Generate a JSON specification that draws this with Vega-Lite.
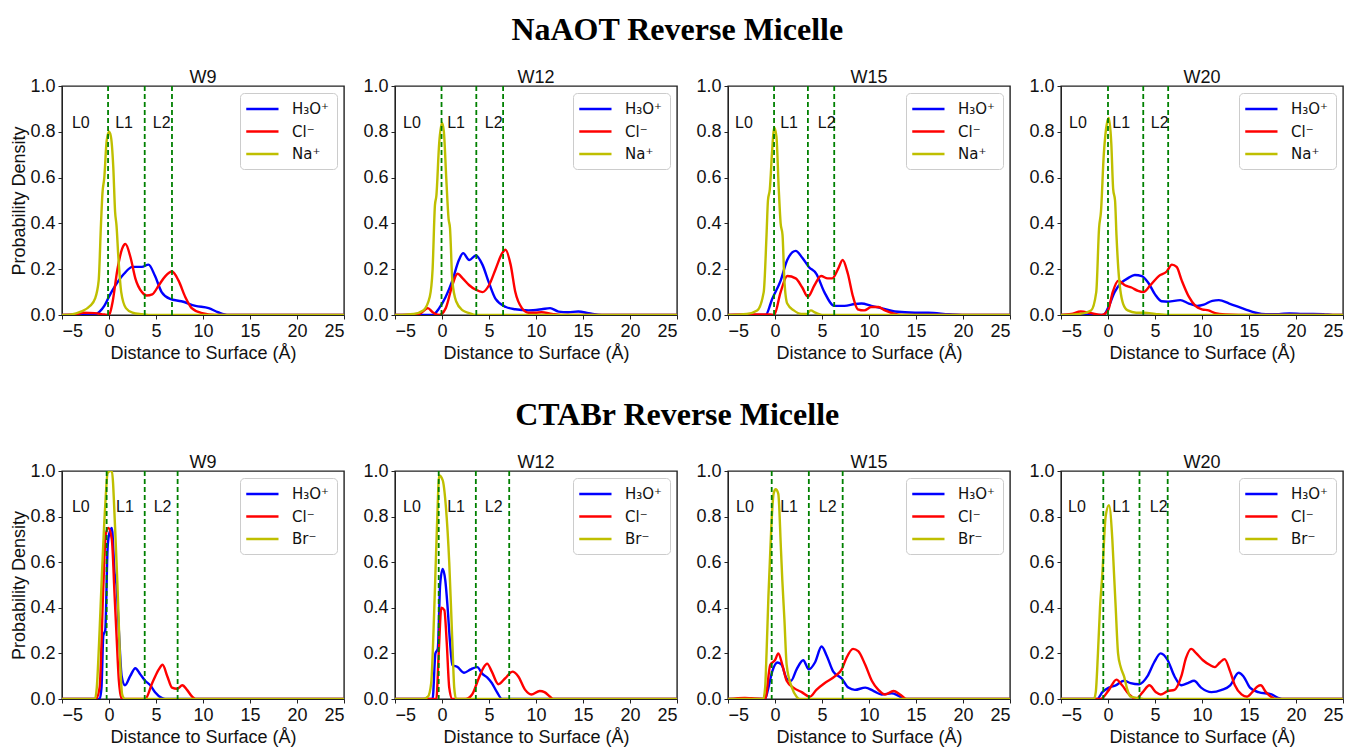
{
"$schema":"https://vega.github.io/schema/vega-lite/v6.json",
"padding":{"left":10,"top":14,"right":5,"bottom":2},
"background":"white",
"config":{
 "font":"Liberation Sans",
 "view":{"stroke":"#222222","strokeWidth":1.4},
 "axis":{"grid":false,"labelFont":"Liberation Sans","labelFontSize":18,"labelColor":"#111","titleFont":"Liberation Sans","titleFontSize":18,"titleFontWeight":"normal","titleColor":"#111","domainColor":"#222","tickColor":"#222","tickSize":4,"labelPadding":3,"titlePadding":4},
 "axisY":{"titlePadding":1},
 "title":{"font":"Liberation Sans","fontSize":18,"fontWeight":"normal","color":"#111","offset":-10},
 "legend":{"orient":"top-right","offset":7,"symbolType":"M-1.3,0H3","symbolSize":225,"symbolStrokeWidth":2.5,"labelFont":"DejaVu Sans","labelFontSize":15,"labelColor":"#111","strokeColor":"#cccccc","fillColor":"white","cornerRadius":4,"padding":7,"rowPadding":5.5,"labelOffset":27}
},
"spacing":36,
"resolve":{"scale":{"color":"independent"},"legend":{"color":"independent"}},
"vconcat":[
{
 "title":{"text":"NaAOT Reverse Micelle","font":"Liberation Serif","fontSize":32,"fontWeight":"bold","anchor":"middle","color":"#000","offset":21},
 "spacing":16,
 "resolve":{"scale":{"color":"independent"},"legend":{"color":"independent"}},
 "hconcat":[
  {"title":"W9","width":282,"height":229,"layer":[
   {"data":{"values":[
{"ion":"H₃O⁺","x":-5,"y":0},{"ion":"H₃O⁺","x":-1.6,"y":0},{"ion":"H₃O⁺","x":-1.0,"y":0.015},{"ion":"H₃O⁺","x":-0.5,"y":0.04},{"ion":"H₃O⁺","x":0,"y":0.08},{"ion":"H₃O⁺","x":0.7,"y":0.13},{"ion":"H₃O⁺","x":1.6,"y":0.18},{"ion":"H₃O⁺","x":2.5,"y":0.21},{"ion":"H₃O⁺","x":3.5,"y":0.21},{"ion":"H₃O⁺","x":4.2,"y":0.22},{"ion":"H₃O⁺","x":4.9,"y":0.17},{"ion":"H₃O⁺","x":5.6,"y":0.1},{"ion":"H₃O⁺","x":6.5,"y":0.07},{"ion":"H₃O⁺","x":7.7,"y":0.06},{"ion":"H₃O⁺","x":9.2,"y":0.04},{"ion":"H₃O⁺","x":10.6,"y":0.03},{"ion":"H₃O⁺","x":11.6,"y":0.012},{"ion":"H₃O⁺","x":12.7,"y":0},{"ion":"H₃O⁺","x":25,"y":0},
{"ion":"Cl⁻","x":-5,"y":0},{"ion":"Cl⁻","x":-3.5,"y":0.003},{"ion":"Cl⁻","x":-2.8,"y":0.01},{"ion":"Cl⁻","x":-1.5,"y":0.008},{"ion":"Cl⁻","x":-0.5,"y":0.002},{"ion":"Cl⁻","x":0,"y":0},{"ion":"Cl⁻","x":0.35,"y":0.05},{"ion":"Cl⁻","x":0.9,"y":0.2},{"ion":"Cl⁻","x":1.4,"y":0.29},{"ion":"Cl⁻","x":1.75,"y":0.31},{"ion":"Cl⁻","x":2.3,"y":0.25},{"ion":"Cl⁻","x":2.8,"y":0.16},{"ion":"Cl⁻","x":3.5,"y":0.1},{"ion":"Cl⁻","x":4.0,"y":0.085},{"ion":"Cl⁻","x":4.6,"y":0.09},{"ion":"Cl⁻","x":5.3,"y":0.13},{"ion":"Cl⁻","x":6.0,"y":0.17},{"ion":"Cl⁻","x":6.7,"y":0.19},{"ion":"Cl⁻","x":7.4,"y":0.15},{"ion":"Cl⁻","x":8.1,"y":0.08},{"ion":"Cl⁻","x":8.8,"y":0.03},{"ion":"Cl⁻","x":9.9,"y":0.008},{"ion":"Cl⁻","x":11.3,"y":0},{"ion":"Cl⁻","x":25,"y":0},
{"ion":"Na⁺","x":-5,"y":0},{"ion":"Na⁺","x":-4,"y":0.003},{"ion":"Na⁺","x":-3,"y":0.015},{"ion":"Na⁺","x":-2,"y":0.04},{"ion":"Na⁺","x":-1.5,"y":0.07},{"ion":"Na⁺","x":-1.1,"y":0.15},{"ion":"Na⁺","x":-0.85,"y":0.4},{"ion":"Na⁺","x":-0.7,"y":0.53},{"ion":"Na⁺","x":-0.5,"y":0.6},{"ion":"Na⁺","x":-0.25,"y":0.76},{"ion":"Na⁺","x":0,"y":0.8},{"ion":"Na⁺","x":0.2,"y":0.78},{"ion":"Na⁺","x":0.45,"y":0.65},{"ion":"Na⁺","x":0.65,"y":0.45},{"ion":"Na⁺","x":0.8,"y":0.39},{"ion":"Na⁺","x":1.0,"y":0.25},{"ion":"Na⁺","x":1.3,"y":0.1},{"ion":"Na⁺","x":1.8,"y":0.03},{"ion":"Na⁺","x":2.5,"y":0.01},{"ion":"Na⁺","x":3.5,"y":0.003},{"ion":"Na⁺","x":4.2,"y":0},{"ion":"Na⁺","x":25,"y":0}
   ]},
   "mark":{"type":"line","interpolate":"monotone","strokeWidth":2.4,"clip":true},
   "encoding":{
    "x":{"field":"x","type":"quantitative","scale":{"domain":[-5,25],"nice":false,"zero":false},"axis":{"values":[-5,0,5,10,15,20,25],"title":"Distance to Surface (Å)"}},
    "y":{"field":"y","type":"quantitative","scale":{"domain":[0,1],"nice":false},"axis":{"values":[0,0.2,0.4,0.6,0.8,1.0],"format":".1f","title":"Probability Density"}},
    "color":{"field":"ion","type":"nominal","sort":null,"scale":{"domain":["H₃O⁺","Cl⁻","Na⁺"],"range":["#0000ff","#ff0000","#bfbf00"]},"legend":{"title":null}}
   }},
   {"data":{"values":[{"x":-0.1},{"x":3.8},{"x":6.7}]},"mark":{"type":"rule","color":"#008000","strokeDash":[5,3],"strokeWidth":1.8},"encoding":{"x":{"field":"x","type":"quantitative"}}},
   {"data":{"values":[{"t":"L0","x":-3.0,"y":0.84},{"t":"L1","x":1.6,"y":0.84},{"t":"L2","x":5.6,"y":0.84}]},"mark":{"type":"text","fontSize":16,"font":"Liberation Sans","color":"#111"},"encoding":{"x":{"field":"x","type":"quantitative"},"y":{"field":"y","type":"quantitative"},"text":{"field":"t"}}}
  ]},
  {"title":"W12","width":282,"height":229,"layer":[
   {"data":{"values":[
{"ion":"H₃O⁺","x":-5,"y":0},{"ion":"H₃O⁺","x":-1.0,"y":0},{"ion":"H₃O⁺","x":-0.3,"y":0.03},{"ion":"H₃O⁺","x":0.4,"y":0.08},{"ion":"H₃O⁺","x":1.1,"y":0.15},{"ion":"H₃O⁺","x":1.8,"y":0.24},{"ion":"H₃O⁺","x":2.25,"y":0.27},{"ion":"H₃O⁺","x":2.9,"y":0.24},{"ion":"H₃O⁺","x":3.6,"y":0.26},{"ion":"H₃O⁺","x":4.3,"y":0.22},{"ion":"H₃O⁺","x":5.0,"y":0.14},{"ion":"H₃O⁺","x":5.7,"y":0.07},{"ion":"H₃O⁺","x":6.8,"y":0.035},{"ion":"H₃O⁺","x":7.8,"y":0.025},{"ion":"H₃O⁺","x":9.2,"y":0.02},{"ion":"H₃O⁺","x":10.6,"y":0.025},{"ion":"H₃O⁺","x":11.5,"y":0.03},{"ion":"H₃O⁺","x":12.4,"y":0.015},{"ion":"H₃O⁺","x":13.4,"y":0.012},{"ion":"H₃O⁺","x":14.5,"y":0.015},{"ion":"H₃O⁺","x":15.6,"y":0.008},{"ion":"H₃O⁺","x":17,"y":0},{"ion":"H₃O⁺","x":25,"y":0},
{"ion":"Cl⁻","x":-5,"y":0},{"ion":"Cl⁻","x":-2.4,"y":0.005},{"ion":"Cl⁻","x":-1.5,"y":0.03},{"ion":"Cl⁻","x":-1.0,"y":0.012},{"ion":"Cl⁻","x":-0.3,"y":0},{"ion":"Cl⁻","x":0.4,"y":0.03},{"ion":"Cl⁻","x":1.1,"y":0.13},{"ion":"Cl⁻","x":1.65,"y":0.18},{"ion":"Cl⁻","x":2.2,"y":0.16},{"ion":"Cl⁻","x":2.9,"y":0.13},{"ion":"Cl⁻","x":3.6,"y":0.11},{"ion":"Cl⁻","x":4.3,"y":0.1},{"ion":"Cl⁻","x":5.0,"y":0.13},{"ion":"Cl⁻","x":5.7,"y":0.2},{"ion":"Cl⁻","x":6.4,"y":0.27},{"ion":"Cl⁻","x":6.75,"y":0.285},{"ion":"Cl⁻","x":7.3,"y":0.22},{"ion":"Cl⁻","x":7.8,"y":0.1},{"ion":"Cl⁻","x":8.5,"y":0.03},{"ion":"Cl⁻","x":9.2,"y":0.01},{"ion":"Cl⁻","x":9.9,"y":0.01},{"ion":"Cl⁻","x":10.6,"y":0.012},{"ion":"Cl⁻","x":11.7,"y":0.005},{"ion":"Cl⁻","x":12.7,"y":0},{"ion":"Cl⁻","x":25,"y":0},
{"ion":"Na⁺","x":-5,"y":0},{"ion":"Na⁺","x":-3,"y":0.005},{"ion":"Na⁺","x":-2,"y":0.02},{"ion":"Na⁺","x":-1.3,"y":0.08},{"ion":"Na⁺","x":-1.0,"y":0.2},{"ion":"Na⁺","x":-0.75,"y":0.48},{"ion":"Na⁺","x":-0.6,"y":0.52},{"ion":"Na⁺","x":-0.3,"y":0.75},{"ion":"Na⁺","x":0,"y":0.84},{"ion":"Na⁺","x":0.2,"y":0.8},{"ion":"Na⁺","x":0.45,"y":0.6},{"ion":"Na⁺","x":0.7,"y":0.42},{"ion":"Na⁺","x":0.85,"y":0.38},{"ion":"Na⁺","x":1.1,"y":0.15},{"ion":"Na⁺","x":1.5,"y":0.06},{"ion":"Na⁺","x":2.2,"y":0.02},{"ion":"Na⁺","x":2.9,"y":0.008},{"ion":"Na⁺","x":3.6,"y":0},{"ion":"Na⁺","x":25,"y":0}
   ]},
   "mark":{"type":"line","interpolate":"monotone","strokeWidth":2.4,"clip":true},
   "encoding":{
    "x":{"field":"x","type":"quantitative","scale":{"domain":[-5,25],"nice":false,"zero":false},"axis":{"values":[-5,0,5,10,15,20,25],"title":"Distance to Surface (Å)"}},
    "y":{"field":"y","type":"quantitative","scale":{"domain":[0,1],"nice":false},"axis":{"values":[0,0.2,0.4,0.6,0.8,1.0],"format":".1f","title":null}},
    "color":{"field":"ion","type":"nominal","sort":null,"scale":{"domain":["H₃O⁺","Cl⁻","Na⁺"],"range":["#0000ff","#ff0000","#bfbf00"]},"legend":{"title":null}}
   }},
   {"data":{"values":[{"x":-0.05},{"x":3.65},{"x":6.5}]},"mark":{"type":"rule","color":"#008000","strokeDash":[5,3],"strokeWidth":1.8},"encoding":{"x":{"field":"x","type":"quantitative"}}},
   {"data":{"values":[{"t":"L0","x":-3.2,"y":0.84},{"t":"L1","x":1.5,"y":0.84},{"t":"L2","x":5.5,"y":0.84}]},"mark":{"type":"text","fontSize":16,"font":"Liberation Sans","color":"#111"},"encoding":{"x":{"field":"x","type":"quantitative"},"y":{"field":"y","type":"quantitative"},"text":{"field":"t"}}}
  ]},
  {"title":"W15","width":282,"height":229,"layer":[
   {"data":{"values":[
{"ion":"H₃O⁺","x":-5,"y":0},{"ion":"H₃O⁺","x":-1.0,"y":0},{"ion":"H₃O⁺","x":-0.3,"y":0.07},{"ion":"H₃O⁺","x":0.6,"y":0.15},{"ion":"H₃O⁺","x":1.3,"y":0.24},{"ion":"H₃O⁺","x":2.2,"y":0.28},{"ion":"H₃O⁺","x":2.9,"y":0.25},{"ion":"H₃O⁺","x":3.6,"y":0.21},{"ion":"H₃O⁺","x":4.4,"y":0.18},{"ion":"H₃O⁺","x":5.25,"y":0.1},{"ion":"H₃O⁺","x":6.3,"y":0.04},{"ion":"H₃O⁺","x":7.4,"y":0.04},{"ion":"H₃O⁺","x":8.5,"y":0.048},{"ion":"H₃O⁺","x":9.2,"y":0.05},{"ion":"H₃O⁺","x":10.25,"y":0.04},{"ion":"H₃O⁺","x":11.3,"y":0.03},{"ion":"H₃O⁺","x":12.75,"y":0.015},{"ion":"H₃O⁺","x":14.9,"y":0.01},{"ion":"H₃O⁺","x":16.3,"y":0.01},{"ion":"H₃O⁺","x":18.5,"y":0.003},{"ion":"H₃O⁺","x":19.9,"y":0},{"ion":"H₃O⁺","x":25,"y":0},
{"ion":"Cl⁻","x":-5,"y":0},{"ion":"Cl⁻","x":-3,"y":0.002},{"ion":"Cl⁻","x":-0.5,"y":0.002},{"ion":"Cl⁻","x":-0.1,"y":0},{"ion":"Cl⁻","x":0.6,"y":0.1},{"ion":"Cl⁻","x":1.3,"y":0.17},{"ion":"Cl⁻","x":2.2,"y":0.16},{"ion":"Cl⁻","x":2.9,"y":0.12},{"ion":"Cl⁻","x":3.5,"y":0.08},{"ion":"Cl⁻","x":4.2,"y":0.13},{"ion":"Cl⁻","x":4.9,"y":0.17},{"ion":"Cl⁻","x":5.6,"y":0.16},{"ion":"Cl⁻","x":6.1,"y":0.16},{"ion":"Cl⁻","x":6.7,"y":0.2},{"ion":"Cl⁻","x":7.2,"y":0.24},{"ion":"Cl⁻","x":7.75,"y":0.18},{"ion":"Cl⁻","x":8.3,"y":0.08},{"ion":"Cl⁻","x":8.8,"y":0.025},{"ion":"Cl⁻","x":9.5,"y":0.02},{"ion":"Cl⁻","x":10.25,"y":0.035},{"ion":"Cl⁻","x":11.0,"y":0.035},{"ion":"Cl⁻","x":11.7,"y":0.02},{"ion":"Cl⁻","x":12.75,"y":0.005},{"ion":"Cl⁻","x":13.5,"y":0},{"ion":"Cl⁻","x":25,"y":0},
{"ion":"Na⁺","x":-5,"y":0},{"ion":"Na⁺","x":-3,"y":0.005},{"ion":"Na⁺","x":-1.9,"y":0.02},{"ion":"Na⁺","x":-1.2,"y":0.1},{"ion":"Na⁺","x":-0.9,"y":0.35},{"ion":"Na⁺","x":-0.75,"y":0.5},{"ion":"Na⁺","x":-0.55,"y":0.55},{"ion":"Na⁺","x":-0.3,"y":0.72},{"ion":"Na⁺","x":-0.1,"y":0.82},{"ion":"Na⁺","x":0.15,"y":0.78},{"ion":"Na⁺","x":0.4,"y":0.55},{"ion":"Na⁺","x":0.6,"y":0.4},{"ion":"Na⁺","x":0.8,"y":0.35},{"ion":"Na⁺","x":1.0,"y":0.15},{"ion":"Na⁺","x":1.3,"y":0.05},{"ion":"Na⁺","x":2.0,"y":0.02},{"ion":"Na⁺","x":2.8,"y":0.005},{"ion":"Na⁺","x":3.4,"y":0.005},{"ion":"Na⁺","x":3.8,"y":0.02},{"ion":"Na⁺","x":4.3,"y":0.01},{"ion":"Na⁺","x":5,"y":0},{"ion":"Na⁺","x":25,"y":0}
   ]},
   "mark":{"type":"line","interpolate":"monotone","strokeWidth":2.4,"clip":true},
   "encoding":{
    "x":{"field":"x","type":"quantitative","scale":{"domain":[-5,25],"nice":false,"zero":false},"axis":{"values":[-5,0,5,10,15,20,25],"title":"Distance to Surface (Å)"}},
    "y":{"field":"y","type":"quantitative","scale":{"domain":[0,1],"nice":false},"axis":{"values":[0,0.2,0.4,0.6,0.8,1.0],"format":".1f","title":null}},
    "color":{"field":"ion","type":"nominal","sort":null,"scale":{"domain":["H₃O⁺","Cl⁻","Na⁺"],"range":["#0000ff","#ff0000","#bfbf00"]},"legend":{"title":null}}
   }},
   {"data":{"values":[{"x":-0.1},{"x":3.5},{"x":6.3}]},"mark":{"type":"rule","color":"#008000","strokeDash":[5,3],"strokeWidth":1.8},"encoding":{"x":{"field":"x","type":"quantitative"}}},
   {"data":{"values":[{"t":"L0","x":-3.3,"y":0.84},{"t":"L1","x":1.5,"y":0.84},{"t":"L2","x":5.5,"y":0.84}]},"mark":{"type":"text","fontSize":16,"font":"Liberation Sans","color":"#111"},"encoding":{"x":{"field":"x","type":"quantitative"},"y":{"field":"y","type":"quantitative"},"text":{"field":"t"}}}
  ]},
  {"title":"W20","width":282,"height":229,"layer":[
   {"data":{"values":[
{"ion":"H₃O⁺","x":-5,"y":0},{"ion":"H₃O⁺","x":-0.5,"y":0},{"ion":"H₃O⁺","x":0,"y":0.03},{"ion":"H₃O⁺","x":0.7,"y":0.1},{"ion":"H₃O⁺","x":1.4,"y":0.14},{"ion":"H₃O⁺","x":2.1,"y":0.16},{"ion":"H₃O⁺","x":2.85,"y":0.175},{"ion":"H₃O⁺","x":3.6,"y":0.17},{"ion":"H₃O⁺","x":4.3,"y":0.14},{"ion":"H₃O⁺","x":5.0,"y":0.09},{"ion":"H₃O⁺","x":5.7,"y":0.06},{"ion":"H₃O⁺","x":6.4,"y":0.058},{"ion":"H₃O⁺","x":7.7,"y":0.065},{"ion":"H₃O⁺","x":8.6,"y":0.05},{"ion":"H₃O⁺","x":9.5,"y":0.04},{"ion":"H₃O⁺","x":10.2,"y":0.045},{"ion":"H₃O⁺","x":11.1,"y":0.062},{"ion":"H₃O⁺","x":11.8,"y":0.065},{"ion":"H₃O⁺","x":12.9,"y":0.05},{"ion":"H₃O⁺","x":14.6,"y":0.025},{"ion":"H₃O⁺","x":15.7,"y":0.01},{"ion":"H₃O⁺","x":16.8,"y":0.003},{"ion":"H₃O⁺","x":18.2,"y":0.004},{"ion":"H₃O⁺","x":19.3,"y":0.007},{"ion":"H₃O⁺","x":20.7,"y":0.005},{"ion":"H₃O⁺","x":22.9,"y":0.004},{"ion":"H₃O⁺","x":23.9,"y":0},{"ion":"H₃O⁺","x":25,"y":0},
{"ion":"Cl⁻","x":-5,"y":0},{"ion":"Cl⁻","x":-3.9,"y":0.005},{"ion":"Cl⁻","x":-2.9,"y":0.015},{"ion":"Cl⁻","x":-1.8,"y":0.008},{"ion":"Cl⁻","x":-0.7,"y":0},{"ion":"Cl⁻","x":0,"y":0.02},{"ion":"Cl⁻","x":0.5,"y":0.1},{"ion":"Cl⁻","x":1.1,"y":0.15},{"ion":"Cl⁻","x":1.8,"y":0.13},{"ion":"Cl⁻","x":2.5,"y":0.12},{"ion":"Cl⁻","x":3.2,"y":0.105},{"ion":"Cl⁻","x":3.75,"y":0.1},{"ion":"Cl⁻","x":4.5,"y":0.13},{"ion":"Cl⁻","x":5.4,"y":0.17},{"ion":"Cl⁻","x":6.25,"y":0.19},{"ion":"Cl⁻","x":6.8,"y":0.22},{"ion":"Cl⁻","x":7.3,"y":0.21},{"ion":"Cl⁻","x":7.85,"y":0.15},{"ion":"Cl⁻","x":8.6,"y":0.08},{"ion":"Cl⁻","x":9.3,"y":0.04},{"ion":"Cl⁻","x":10.0,"y":0.025},{"ion":"Cl⁻","x":10.7,"y":0.02},{"ion":"Cl⁻","x":11.4,"y":0.008},{"ion":"Cl⁻","x":12.5,"y":0.002},{"ion":"Cl⁻","x":13.9,"y":0},{"ion":"Cl⁻","x":25,"y":0},
{"ion":"Na⁺","x":-5,"y":0},{"ion":"Na⁺","x":-3,"y":0.005},{"ion":"Na⁺","x":-1.8,"y":0.02},{"ion":"Na⁺","x":-1.25,"y":0.1},{"ion":"Na⁺","x":-0.95,"y":0.38},{"ion":"Na⁺","x":-0.75,"y":0.45},{"ion":"Na⁺","x":-0.45,"y":0.7},{"ion":"Na⁺","x":-0.1,"y":0.84},{"ion":"Na⁺","x":0.1,"y":0.86},{"ion":"Na⁺","x":0.35,"y":0.75},{"ion":"Na⁺","x":0.55,"y":0.55},{"ion":"Na⁺","x":0.75,"y":0.5},{"ion":"Na⁺","x":0.9,"y":0.35},{"ion":"Na⁺","x":1.1,"y":0.2},{"ion":"Na⁺","x":1.6,"y":0.05},{"ion":"Na⁺","x":2.1,"y":0.02},{"ion":"Na⁺","x":3,"y":0.01},{"ion":"Na⁺","x":3.9,"y":0.01},{"ion":"Na⁺","x":5,"y":0.005},{"ion":"Na⁺","x":6.4,"y":0},{"ion":"Na⁺","x":25,"y":0}
   ]},
   "mark":{"type":"line","interpolate":"monotone","strokeWidth":2.4,"clip":true},
   "encoding":{
    "x":{"field":"x","type":"quantitative","scale":{"domain":[-5,25],"nice":false,"zero":false},"axis":{"values":[-5,0,5,10,15,20,25],"title":"Distance to Surface (Å)"}},
    "y":{"field":"y","type":"quantitative","scale":{"domain":[0,1],"nice":false},"axis":{"values":[0,0.2,0.4,0.6,0.8,1.0],"format":".1f","title":null}},
    "color":{"field":"ion","type":"nominal","sort":null,"scale":{"domain":["H₃O⁺","Cl⁻","Na⁺"],"range":["#0000ff","#ff0000","#bfbf00"]},"legend":{"title":null}}
   }},
   {"data":{"values":[{"x":0},{"x":3.75},{"x":6.4}]},"mark":{"type":"rule","color":"#008000","strokeDash":[5,3],"strokeWidth":1.8},"encoding":{"x":{"field":"x","type":"quantitative"}}},
   {"data":{"values":[{"t":"L0","x":-3.2,"y":0.84},{"t":"L1","x":1.4,"y":0.84},{"t":"L2","x":5.5,"y":0.84}]},"mark":{"type":"text","fontSize":16,"font":"Liberation Sans","color":"#111"},"encoding":{"x":{"field":"x","type":"quantitative"},"y":{"field":"y","type":"quantitative"},"text":{"field":"t"}}}
  ]}
 ]
},
{
 "title":{"text":"CTABr Reverse Micelle","font":"Liberation Serif","fontSize":32,"fontWeight":"bold","anchor":"middle","color":"#000","offset":21},
 "spacing":16,
 "resolve":{"scale":{"color":"independent"},"legend":{"color":"independent"}},
 "hconcat":[
  {"title":"W9","width":282,"height":228,"layer":[
   {"data":{"values":[
{"ion":"H₃O⁺","x":-5,"y":0},{"ion":"H₃O⁺","x":-1.0,"y":0},{"ion":"H₃O⁺","x":-0.8,"y":0.05},{"ion":"H₃O⁺","x":-0.6,"y":0.28},{"ion":"H₃O⁺","x":-0.4,"y":0.3},{"ion":"H₃O⁺","x":-0.15,"y":0.66},{"ion":"H₃O⁺","x":0,"y":0.72},{"ion":"H₃O⁺","x":0.3,"y":0.75},{"ion":"H₃O⁺","x":0.6,"y":0.55},{"ion":"H₃O⁺","x":0.8,"y":0.5},{"ion":"H₃O⁺","x":1.05,"y":0.3},{"ion":"H₃O⁺","x":1.35,"y":0.1},{"ion":"H₃O⁺","x":1.7,"y":0.06},{"ion":"H₃O⁺","x":2.25,"y":0.1},{"ion":"H₃O⁺","x":2.8,"y":0.135},{"ion":"H₃O⁺","x":3.3,"y":0.11},{"ion":"H₃O⁺","x":3.85,"y":0.08},{"ion":"H₃O⁺","x":4.4,"y":0.06},{"ion":"H₃O⁺","x":4.9,"y":0.03},{"ion":"H₃O⁺","x":5.6,"y":0.005},{"ion":"H₃O⁺","x":6,"y":0},{"ion":"H₃O⁺","x":25,"y":0},
{"ion":"Cl⁻","x":-5,"y":0},{"ion":"Cl⁻","x":-1.4,"y":0},{"ion":"Cl⁻","x":-1.0,"y":0.05},{"ion":"Cl⁻","x":-0.6,"y":0.5},{"ion":"Cl⁻","x":-0.35,"y":0.72},{"ion":"Cl⁻","x":-0.07,"y":0.75},{"ion":"Cl⁻","x":0.3,"y":0.7},{"ion":"Cl⁻","x":0.6,"y":0.45},{"ion":"Cl⁻","x":0.8,"y":0.28},{"ion":"Cl⁻","x":1.05,"y":0.08},{"ion":"Cl⁻","x":1.35,"y":0},{"ion":"Cl⁻","x":3.85,"y":0},{"ion":"Cl⁻","x":4.6,"y":0.07},{"ion":"Cl⁻","x":5.3,"y":0.13},{"ion":"Cl⁻","x":5.7,"y":0.15},{"ion":"Cl⁻","x":6.2,"y":0.1},{"ion":"Cl⁻","x":6.7,"y":0.05},{"ion":"Cl⁻","x":7.25,"y":0.045},{"ion":"Cl⁻","x":7.8,"y":0.06},{"ion":"Cl⁻","x":8.3,"y":0.04},{"ion":"Cl⁻","x":8.85,"y":0.01},{"ion":"Cl⁻","x":9.2,"y":0},{"ion":"Cl⁻","x":25,"y":0},
{"ion":"Br⁻","x":-5,"y":0},{"ion":"Br⁻","x":-1.5,"y":0},{"ion":"Br⁻","x":-1.3,"y":0.05},{"ion":"Br⁻","x":-1.0,"y":0.3},{"ion":"Br⁻","x":-0.8,"y":0.5},{"ion":"Br⁻","x":-0.4,"y":0.85},{"ion":"Br⁻","x":-0.15,"y":0.99},{"ion":"Br⁻","x":0.1,"y":1.0},{"ion":"Br⁻","x":0.3,"y":1.0},{"ion":"Br⁻","x":0.65,"y":0.75},{"ion":"Br⁻","x":0.9,"y":0.5},{"ion":"Br⁻","x":1.15,"y":0.2},{"ion":"Br⁻","x":1.4,"y":0.02},{"ion":"Br⁻","x":1.7,"y":0},{"ion":"Br⁻","x":25,"y":0}
   ]},
   "mark":{"type":"line","interpolate":"monotone","strokeWidth":2.4,"clip":true},
   "encoding":{
    "x":{"field":"x","type":"quantitative","scale":{"domain":[-5,25],"nice":false,"zero":false},"axis":{"values":[-5,0,5,10,15,20,25],"title":"Distance to Surface (Å)"}},
    "y":{"field":"y","type":"quantitative","scale":{"domain":[0,1],"nice":false},"axis":{"values":[0,0.2,0.4,0.6,0.8,1.0],"format":".1f","title":"Probability Density"}},
    "color":{"field":"ion","type":"nominal","sort":null,"scale":{"domain":["H₃O⁺","Cl⁻","Br⁻"],"range":["#0000ff","#ff0000","#bfbf00"]},"legend":{"title":null}}
   }},
   {"data":{"values":[{"x":-0.25},{"x":3.8},{"x":7.3}]},"mark":{"type":"rule","color":"#008000","strokeDash":[5,3],"strokeWidth":1.8},"encoding":{"x":{"field":"x","type":"quantitative"}}},
   {"data":{"values":[{"t":"L0","x":-3.0,"y":0.84},{"t":"L1","x":1.7,"y":0.84},{"t":"L2","x":5.7,"y":0.84}]},"mark":{"type":"text","fontSize":16,"font":"Liberation Sans","color":"#111"},"encoding":{"x":{"field":"x","type":"quantitative"},"y":{"field":"y","type":"quantitative"},"text":{"field":"t"}}}
  ]},
  {"title":"W12","width":282,"height":228,"layer":[
   {"data":{"values":[
{"ion":"H₃O⁺","x":-5,"y":0},{"ion":"H₃O⁺","x":-1.0,"y":0},{"ion":"H₃O⁺","x":-0.7,"y":0.2},{"ion":"H₃O⁺","x":-0.45,"y":0.22},{"ion":"H₃O⁺","x":-0.2,"y":0.5},{"ion":"H₃O⁺","x":0.07,"y":0.57},{"ion":"H₃O⁺","x":0.35,"y":0.52},{"ion":"H₃O⁺","x":0.6,"y":0.4},{"ion":"H₃O⁺","x":0.85,"y":0.25},{"ion":"H₃O⁺","x":1.1,"y":0.15},{"ion":"H₃O⁺","x":1.65,"y":0.14},{"ion":"H₃O⁺","x":2.35,"y":0.115},{"ion":"H₃O⁺","x":3.05,"y":0.13},{"ion":"H₃O⁺","x":3.75,"y":0.14},{"ion":"H₃O⁺","x":4.3,"y":0.11},{"ion":"H₃O⁺","x":4.8,"y":0.095},{"ion":"H₃O⁺","x":5.3,"y":0.07},{"ion":"H₃O⁺","x":5.85,"y":0.03},{"ion":"H₃O⁺","x":6.4,"y":0},{"ion":"H₃O⁺","x":25,"y":0},
{"ion":"Cl⁻","x":-5,"y":0},{"ion":"Cl⁻","x":-0.6,"y":0},{"ion":"Cl⁻","x":-0.35,"y":0.2},{"ion":"Cl⁻","x":-0.07,"y":0.4},{"ion":"Cl⁻","x":0.25,"y":0.39},{"ion":"Cl⁻","x":0.5,"y":0.25},{"ion":"Cl⁻","x":0.77,"y":0.05},{"ion":"Cl⁻","x":1.1,"y":0},{"ion":"Cl⁻","x":2.5,"y":0},{"ion":"Cl⁻","x":3.2,"y":0.02},{"ion":"Cl⁻","x":3.9,"y":0.09},{"ion":"Cl⁻","x":4.45,"y":0.14},{"ion":"Cl⁻","x":4.8,"y":0.155},{"ion":"Cl⁻","x":5.3,"y":0.12},{"ion":"Cl⁻","x":6.0,"y":0.065},{"ion":"Cl⁻","x":6.7,"y":0.09},{"ion":"Cl⁻","x":7.5,"y":0.12},{"ion":"Cl⁻","x":8.1,"y":0.1},{"ion":"Cl⁻","x":8.85,"y":0.04},{"ion":"Cl⁻","x":9.5,"y":0.02},{"ion":"Cl⁻","x":10.4,"y":0.035},{"ion":"Cl⁻","x":10.9,"y":0.03},{"ion":"Cl⁻","x":11.5,"y":0.01},{"ion":"Cl⁻","x":11.8,"y":0},{"ion":"Cl⁻","x":25,"y":0},
{"ion":"Br⁻","x":-5,"y":0},{"ion":"Br⁻","x":-2,"y":0},{"ion":"Br⁻","x":-1.5,"y":0.01},{"ion":"Br⁻","x":-1.15,"y":0.07},{"ion":"Br⁻","x":-0.9,"y":0.3},{"ion":"Br⁻","x":-0.7,"y":0.55},{"ion":"Br⁻","x":-0.5,"y":0.8},{"ion":"Br⁻","x":-0.3,"y":0.98},{"ion":"Br⁻","x":0.07,"y":0.96},{"ion":"Br⁻","x":0.4,"y":0.85},{"ion":"Br⁻","x":0.77,"y":0.6},{"ion":"Br⁻","x":1.1,"y":0.25},{"ion":"Br⁻","x":1.3,"y":0.05},{"ion":"Br⁻","x":1.5,"y":0},{"ion":"Br⁻","x":25,"y":0}
   ]},
   "mark":{"type":"line","interpolate":"monotone","strokeWidth":2.4,"clip":true},
   "encoding":{
    "x":{"field":"x","type":"quantitative","scale":{"domain":[-5,25],"nice":false,"zero":false},"axis":{"values":[-5,0,5,10,15,20,25],"title":"Distance to Surface (Å)"}},
    "y":{"field":"y","type":"quantitative","scale":{"domain":[0,1],"nice":false},"axis":{"values":[0,0.2,0.4,0.6,0.8,1.0],"format":".1f","title":null}},
    "color":{"field":"ion","type":"nominal","sort":null,"scale":{"domain":["H₃O⁺","Cl⁻","Br⁻"],"range":["#0000ff","#ff0000","#bfbf00"]},"legend":{"title":null}}
   }},
   {"data":{"values":[{"x":-0.35},{"x":3.6},{"x":7.15}]},"mark":{"type":"rule","color":"#008000","strokeDash":[5,3],"strokeWidth":1.8},"encoding":{"x":{"field":"x","type":"quantitative"}}},
   {"data":{"values":[{"t":"L0","x":-3.2,"y":0.84},{"t":"L1","x":1.5,"y":0.84},{"t":"L2","x":5.5,"y":0.84}]},"mark":{"type":"text","fontSize":16,"font":"Liberation Sans","color":"#111"},"encoding":{"x":{"field":"x","type":"quantitative"},"y":{"field":"y","type":"quantitative"},"text":{"field":"t"}}}
  ]},
  {"title":"W15","width":282,"height":228,"layer":[
   {"data":{"values":[
{"ion":"H₃O⁺","x":-5,"y":0},{"ion":"H₃O⁺","x":-1.05,"y":0},{"ion":"H₃O⁺","x":-0.7,"y":0.05},{"ion":"H₃O⁺","x":-0.3,"y":0.12},{"ion":"H₃O⁺","x":0.28,"y":0.16},{"ion":"H₃O⁺","x":0.7,"y":0.15},{"ion":"H₃O⁺","x":1.24,"y":0.09},{"ion":"H₃O⁺","x":1.7,"y":0.08},{"ion":"H₃O⁺","x":2.3,"y":0.13},{"ion":"H₃O⁺","x":3.0,"y":0.17},{"ion":"H₃O⁺","x":3.6,"y":0.13},{"ion":"H₃O⁺","x":4.25,"y":0.16},{"ion":"H₃O⁺","x":4.96,"y":0.23},{"ion":"H₃O⁺","x":5.5,"y":0.19},{"ion":"H₃O⁺","x":6.2,"y":0.12},{"ion":"H₃O⁺","x":7.1,"y":0.09},{"ion":"H₃O⁺","x":7.8,"y":0.05},{"ion":"H₃O⁺","x":8.5,"y":0.04},{"ion":"H₃O⁺","x":9.6,"y":0.05},{"ion":"H₃O⁺","x":10.5,"y":0.035},{"ion":"H₃O⁺","x":11.35,"y":0.02},{"ion":"H₃O⁺","x":12.4,"y":0.025},{"ion":"H₃O⁺","x":13.1,"y":0.015},{"ion":"H₃O⁺","x":13.8,"y":0},{"ion":"H₃O⁺","x":25,"y":0},
{"ion":"Cl⁻","x":-5,"y":0},{"ion":"Cl⁻","x":-3.2,"y":0.005},{"ion":"Cl⁻","x":-2.5,"y":0.003},{"ion":"Cl⁻","x":-1.05,"y":0},{"ion":"Cl⁻","x":-0.5,"y":0.15},{"ion":"Cl⁻","x":0,"y":0.17},{"ion":"Cl⁻","x":0.35,"y":0.2},{"ion":"Cl⁻","x":0.78,"y":0.15},{"ion":"Cl⁻","x":1.24,"y":0.08},{"ion":"Cl⁻","x":1.95,"y":0.05},{"ion":"Cl⁻","x":2.84,"y":0.03},{"ion":"Cl⁻","x":3.7,"y":0.01},{"ion":"Cl⁻","x":4.4,"y":0.04},{"ion":"Cl⁻","x":5.3,"y":0.07},{"ion":"Cl⁻","x":6.4,"y":0.1},{"ion":"Cl⁻","x":7.1,"y":0.13},{"ion":"Cl⁻","x":7.6,"y":0.18},{"ion":"Cl⁻","x":8.3,"y":0.22},{"ion":"Cl⁻","x":8.85,"y":0.21},{"ion":"Cl⁻","x":9.6,"y":0.15},{"ion":"Cl⁻","x":10.3,"y":0.08},{"ion":"Cl⁻","x":11.0,"y":0.04},{"ion":"Cl⁻","x":11.7,"y":0.02},{"ion":"Cl⁻","x":12.6,"y":0.035},{"ion":"Cl⁻","x":13.3,"y":0.02},{"ion":"Cl⁻","x":14,"y":0},{"ion":"Cl⁻","x":25,"y":0},
{"ion":"Br⁻","x":-5,"y":0},{"ion":"Br⁻","x":-1.25,"y":0},{"ion":"Br⁻","x":-1.05,"y":0.05},{"ion":"Br⁻","x":-0.9,"y":0.2},{"ion":"Br⁻","x":-0.7,"y":0.45},{"ion":"Br⁻","x":-0.4,"y":0.75},{"ion":"Br⁻","x":-0.15,"y":0.9},{"ion":"Br⁻","x":0.07,"y":0.92},{"ion":"Br⁻","x":0.35,"y":0.9},{"ion":"Br⁻","x":0.64,"y":0.65},{"ion":"Br⁻","x":0.78,"y":0.52},{"ion":"Br⁻","x":1.0,"y":0.35},{"ion":"Br⁻","x":1.24,"y":0.15},{"ion":"Br⁻","x":1.8,"y":0.05},{"ion":"Br⁻","x":2.3,"y":0.01},{"ion":"Br⁻","x":2.65,"y":0},{"ion":"Br⁻","x":25,"y":0}
   ]},
   "mark":{"type":"line","interpolate":"monotone","strokeWidth":2.4,"clip":true},
   "encoding":{
    "x":{"field":"x","type":"quantitative","scale":{"domain":[-5,25],"nice":false,"zero":false},"axis":{"values":[-5,0,5,10,15,20,25],"title":"Distance to Surface (Å)"}},
    "y":{"field":"y","type":"quantitative","scale":{"domain":[0,1],"nice":false},"axis":{"values":[0,0.2,0.4,0.6,0.8,1.0],"format":".1f","title":null}},
    "color":{"field":"ion","type":"nominal","sort":null,"scale":{"domain":["H₃O⁺","Cl⁻","Br⁻"],"range":["#0000ff","#ff0000","#bfbf00"]},"legend":{"title":null}}
   }},
   {"data":{"values":[{"x":-0.35},{"x":3.6},{"x":7.2}]},"mark":{"type":"rule","color":"#008000","strokeDash":[5,3],"strokeWidth":1.8},"encoding":{"x":{"field":"x","type":"quantitative"}}},
   {"data":{"values":[{"t":"L0","x":-3.2,"y":0.84},{"t":"L1","x":1.5,"y":0.84},{"t":"L2","x":5.6,"y":0.84}]},"mark":{"type":"text","fontSize":16,"font":"Liberation Sans","color":"#111"},"encoding":{"x":{"field":"x","type":"quantitative"},"y":{"field":"y","type":"quantitative"},"text":{"field":"t"}}}
  ]},
  {"title":"W20","width":282,"height":228,"layer":[
   {"data":{"values":[
{"ion":"H₃O⁺","x":-5,"y":0},{"ion":"H₃O⁺","x":-1.15,"y":0},{"ion":"H₃O⁺","x":-0.6,"y":0.03},{"ion":"H₃O⁺","x":0.1,"y":0.05},{"ion":"H₃O⁺","x":0.82,"y":0.06},{"ion":"H₃O⁺","x":1.7,"y":0.08},{"ion":"H₃O⁺","x":2.4,"y":0.07},{"ion":"H₃O⁺","x":3.3,"y":0.065},{"ion":"H₃O⁺","x":4.2,"y":0.1},{"ion":"H₃O⁺","x":4.9,"y":0.16},{"ion":"H₃O⁺","x":5.6,"y":0.2},{"ion":"H₃O⁺","x":6.35,"y":0.17},{"ion":"H₃O⁺","x":7.07,"y":0.1},{"ion":"H₃O⁺","x":7.8,"y":0.06},{"ion":"H₃O⁺","x":8.5,"y":0.07},{"ion":"H₃O⁺","x":9.15,"y":0.08},{"ion":"H₃O⁺","x":9.9,"y":0.05},{"ion":"H₃O⁺","x":11.0,"y":0.03},{"ion":"H₃O⁺","x":12.1,"y":0.04},{"ion":"H₃O⁺","x":13.0,"y":0.06},{"ion":"H₃O⁺","x":13.9,"y":0.115},{"ion":"H₃O⁺","x":14.4,"y":0.1},{"ion":"H₃O⁺","x":15.1,"y":0.05},{"ion":"H₃O⁺","x":16.0,"y":0.03},{"ion":"H₃O⁺","x":17.4,"y":0.02},{"ion":"H₃O⁺","x":18.1,"y":0.005},{"ion":"H₃O⁺","x":18.5,"y":0},{"ion":"H₃O⁺","x":25,"y":0},
{"ion":"Cl⁻","x":-5,"y":0},{"ion":"Cl⁻","x":-0.8,"y":0},{"ion":"Cl⁻","x":0.1,"y":0.04},{"ion":"Cl⁻","x":0.9,"y":0.085},{"ion":"Cl⁻","x":1.5,"y":0.06},{"ion":"Cl⁻","x":2.25,"y":0.02},{"ion":"Cl⁻","x":2.96,"y":0},{"ion":"Cl⁻","x":3.7,"y":0.03},{"ion":"Cl⁻","x":4.4,"y":0.06},{"ion":"Cl⁻","x":5.1,"y":0.03},{"ion":"Cl⁻","x":5.6,"y":0.02},{"ion":"Cl⁻","x":6.35,"y":0.035},{"ion":"Cl⁻","x":7.07,"y":0.04},{"ion":"Cl⁻","x":7.8,"y":0.1},{"ion":"Cl⁻","x":8.3,"y":0.18},{"ion":"Cl⁻","x":8.85,"y":0.22},{"ion":"Cl⁻","x":9.4,"y":0.2},{"ion":"Cl⁻","x":10.1,"y":0.17},{"ion":"Cl⁻","x":10.8,"y":0.15},{"ion":"Cl⁻","x":11.35,"y":0.14},{"ion":"Cl⁻","x":11.9,"y":0.16},{"ion":"Cl⁻","x":12.4,"y":0.175},{"ion":"Cl⁻","x":13.0,"y":0.12},{"ion":"Cl⁻","x":13.5,"y":0.06},{"ion":"Cl⁻","x":14.2,"y":0.02},{"ion":"Cl⁻","x":14.8,"y":0.01},{"ion":"Cl⁻","x":15.35,"y":0.03},{"ion":"Cl⁻","x":15.9,"y":0.055},{"ion":"Cl⁻","x":16.25,"y":0.06},{"ion":"Cl⁻","x":16.8,"y":0.03},{"ion":"Cl⁻","x":17.35,"y":0.01},{"ion":"Cl⁻","x":17.8,"y":0},{"ion":"Cl⁻","x":25,"y":0},
{"ion":"Br⁻","x":-5,"y":0},{"ion":"Br⁻","x":-1.5,"y":0},{"ion":"Br⁻","x":-1.3,"y":0.03},{"ion":"Br⁻","x":-1.07,"y":0.2},{"ion":"Br⁻","x":-0.85,"y":0.4},{"ion":"Br⁻","x":-0.6,"y":0.55},{"ion":"Br⁻","x":-0.25,"y":0.8},{"ion":"Br⁻","x":0.1,"y":0.85},{"ion":"Br⁻","x":0.46,"y":0.7},{"ion":"Br⁻","x":0.64,"y":0.55},{"ion":"Br⁻","x":0.82,"y":0.4},{"ion":"Br⁻","x":1.07,"y":0.2},{"ion":"Br⁻","x":1.35,"y":0.14},{"ion":"Br⁻","x":1.7,"y":0.1},{"ion":"Br⁻","x":2.07,"y":0.04},{"ion":"Br⁻","x":2.4,"y":0.01},{"ion":"Br⁻","x":3.1,"y":0.005},{"ion":"Br⁻","x":4.2,"y":0},{"ion":"Br⁻","x":25,"y":0}
   ]},
   "mark":{"type":"line","interpolate":"monotone","strokeWidth":2.4,"clip":true},
   "encoding":{
    "x":{"field":"x","type":"quantitative","scale":{"domain":[-5,25],"nice":false,"zero":false},"axis":{"values":[-5,0,5,10,15,20,25],"title":"Distance to Surface (Å)"}},
    "y":{"field":"y","type":"quantitative","scale":{"domain":[0,1],"nice":false},"axis":{"values":[0,0.2,0.4,0.6,0.8,1.0],"format":".1f","title":null}},
    "color":{"field":"ion","type":"nominal","sort":null,"scale":{"domain":["H₃O⁺","Cl⁻","Br⁻"],"range":["#0000ff","#ff0000","#bfbf00"]},"legend":{"title":null}}
   }},
   {"data":{"values":[{"x":-0.5},{"x":3.35},{"x":6.35}]},"mark":{"type":"rule","color":"#008000","strokeDash":[5,3],"strokeWidth":1.8},"encoding":{"x":{"field":"x","type":"quantitative"}}},
   {"data":{"values":[{"t":"L0","x":-3.3,"y":0.84},{"t":"L1","x":1.4,"y":0.84},{"t":"L2","x":5.4,"y":0.84}]},"mark":{"type":"text","fontSize":16,"font":"Liberation Sans","color":"#111"},"encoding":{"x":{"field":"x","type":"quantitative"},"y":{"field":"y","type":"quantitative"},"text":{"field":"t"}}}
  ]}
 ]
}
]
}
